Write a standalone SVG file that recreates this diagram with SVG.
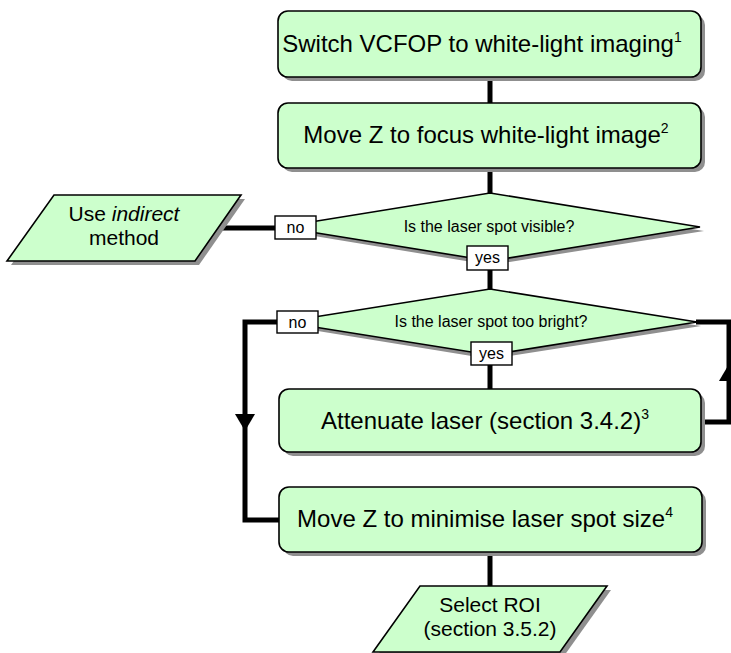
<svg xmlns="http://www.w3.org/2000/svg" width="731" height="653" viewBox="0 0 731 653">
<style>
.shadow{fill:#8f8f8f;stroke:none}
.node{fill:#ccffcc;stroke:#000;stroke-width:1.6}
.conn{fill:none;stroke:#000;stroke-width:5}
.arrow{fill:#000;stroke:none}
.lbl{fill:#fff;stroke:#000;stroke-width:1.4}
text{font-family:"Liberation Sans",Arial,sans-serif;fill:#000;text-anchor:middle}
.big{font-size:24px}
.mid{font-size:21px}
.small{font-size:16px}
.sup{font-size:14px}
</style>
<rect width="731" height="653" fill="#fff"/>
<g id="connectors">
<line class="conn" x1="490" y1="77" x2="490" y2="103"/>
<line class="conn" x1="490" y1="168" x2="490" y2="193"/>
<line class="conn" x1="490" y1="268" x2="490" y2="290"/>
<line class="conn" x1="490" y1="364" x2="490" y2="389"/>
<line class="conn" x1="490" y1="552" x2="490" y2="586"/>
<line class="conn" x1="216" y1="228" x2="276" y2="228"/>
<polyline class="conn" points="278,322 245,322 245,520 279,520"/>
<polygon class="arrow" points="235,414 255,414 245,431"/>
<polyline class="conn" points="696,322 729,322 729,422 701,422"/>
<polygon class="arrow" points="719,381 739,381 729,364"/>
</g>
<g id="n1">
<rect class="shadow" x="282" y="15" width="423" height="66" rx="10"/>
<rect class="node" x="278" y="11" width="423" height="66" rx="10"/>
<text class="big" x="482" y="52">Switch VCFOP to white-light imaging<tspan class="sup" dy="-10">1</tspan></text>
</g>
<g id="n2">
<rect class="shadow" x="282" y="107" width="423" height="65" rx="10"/>
<rect class="node" x="278" y="103" width="423" height="65" rx="10"/>
<text class="big" x="486" y="143">Move Z to focus white-light image<tspan class="sup" dy="-10">2</tspan></text>
</g>
<g id="d1">
<polygon class="shadow" points="490,197 704,231 490,265 284,231"/>
<polygon class="node" points="490,193 700,227 490,261 280,227"/>
<text class="small" x="489" y="232">Is the laser spot visible?</text>
<rect class="lbl" x="275" y="216" width="41" height="23"/>
<text class="small" x="295.5" y="233">no</text>
<rect class="lbl" x="467" y="246" width="41" height="24"/>
<text class="small" x="487.5" y="263">yes</text>
</g>
<g id="indirect">
<polygon class="shadow" points="58,199 245,199 199,265 11,265"/>
<polygon class="node" points="54,195 241,195 195,261 7,261"/>
<text class="mid" x="124" y="221">Use <tspan font-style="italic">indirect</tspan></text>
<text class="mid" x="124" y="245">method</text>
</g>
<g id="d2">
<polygon class="shadow" points="490,293 701,326 490,359 287,326"/>
<polygon class="node" points="490,289 697,322 490,355 283,322"/>
<text class="small" x="491" y="327">Is the laser spot too bright?</text>
<rect class="lbl" x="277" y="311" width="41" height="22"/>
<text class="small" x="297.5" y="328">no</text>
<rect class="lbl" x="471" y="342" width="41" height="23"/>
<text class="small" x="491.5" y="359">yes</text>
</g>
<g id="n3">
<rect class="shadow" x="283" y="393" width="422" height="63" rx="10"/>
<rect class="node" x="279" y="389" width="422" height="63" rx="10"/>
<text class="big" x="485" y="429">Attenuate laser (section 3.4.2)<tspan class="sup" dy="-10">3</tspan></text>
</g>
<g id="n4">
<rect class="shadow" x="283" y="491" width="423" height="65" rx="10"/>
<rect class="node" x="279" y="487" width="423" height="65" rx="10"/>
<text class="big" x="485" y="527">Move Z to minimise laser spot size<tspan class="sup" dy="-10">4</tspan></text>
</g>
<g id="roi">
<polygon class="shadow" points="424,590 611,590 564,656 377,656"/>
<polygon class="node" points="420,586 607,586 560,652 373,652"/>
<text class="mid" x="490" y="612">Select ROI</text>
<text class="mid" x="490" y="636">(section 3.5.2)</text>
</g>
</svg>
